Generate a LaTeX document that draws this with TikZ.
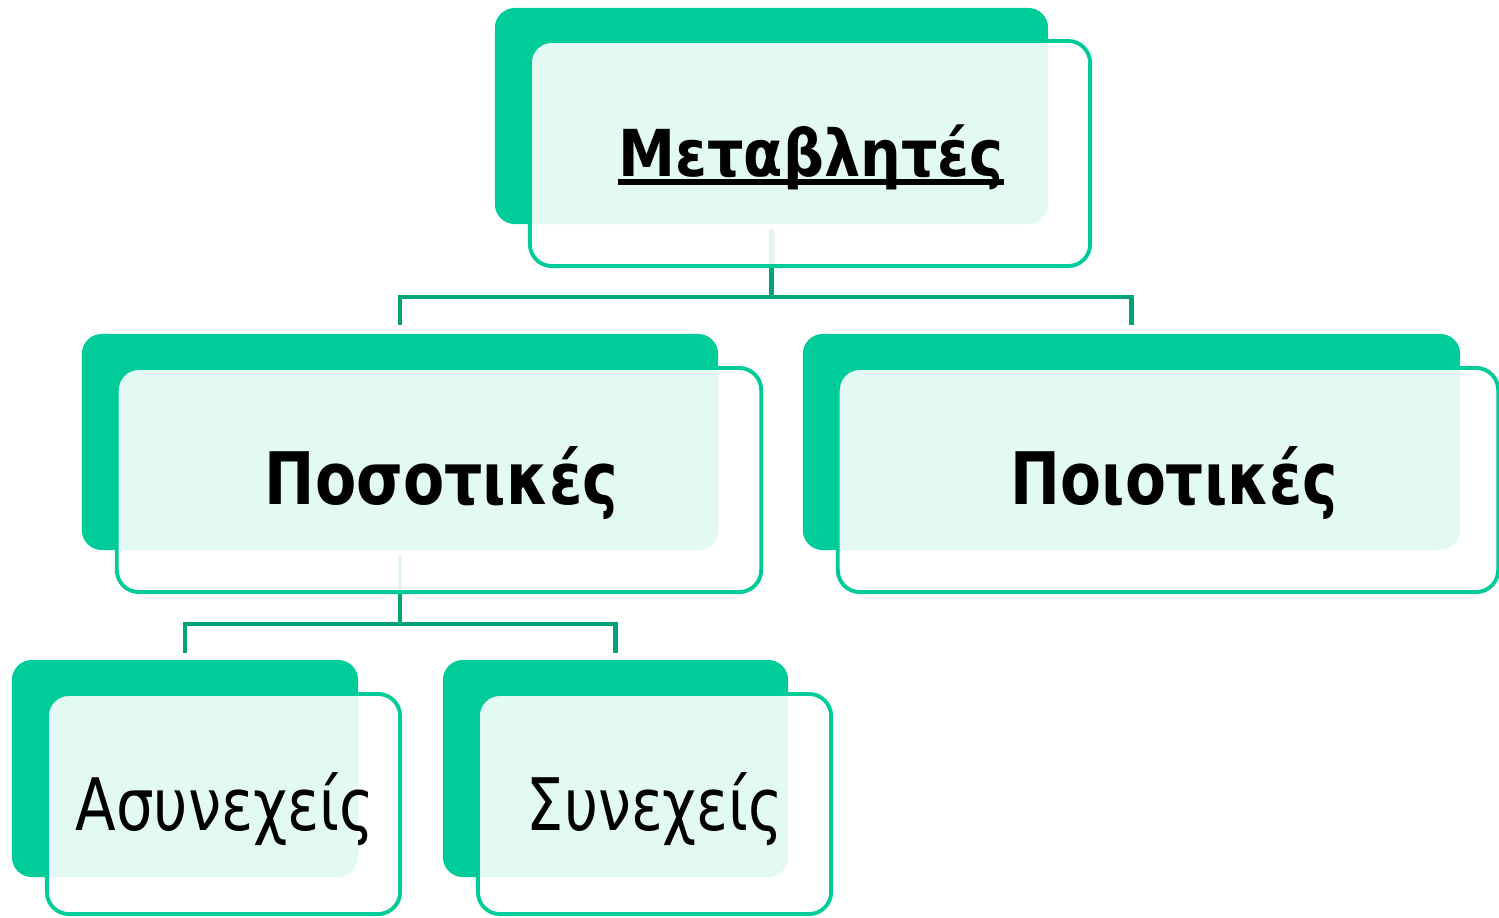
\documentclass[tikz,border=0pt]{standalone}
\usepackage{fontspec}
\setmainfont{DejaVu Sans}
\usepackage{graphicx}
\definecolor{boxgreen}{HTML}{00CC99}
\definecolor{linegreen}{HTML}{00A47A}
% stretch or squeeze a label horizontally to a given width
\newcommand\fitwidth[2]{\resizebox{#1}{\height}{#2}}
\tikzset{
  back/.style={fill=boxgreen, draw=none, rounded corners=0.2cm, inner sep=0pt},
  front/.style={fill=white, fill opacity=0.89, draw=boxgreen, line width=1.1pt,
                rounded corners=0.22cm, inner sep=0pt},
  conn/.style={draw=linegreen, line width=1.4pt},
  label/.style={anchor=base, inner sep=0pt, text=black},
}
\begin{document}
\begin{tikzpicture}[x=0.01cm, y=-0.01cm]
\useasboundingbox (0,0) rectangle (1499,917);

% solid back plates
\node[back, minimum width=5.53cm, minimum height=2.16cm] (dT)  at (771.5,116) {};
\node[back, minimum width=6.36cm, minimum height=2.16cm] (dL)  at (400,442) {};
\node[back, minimum width=6.57cm, minimum height=2.16cm] (dR)  at (1131.5,442) {};
\node[back, minimum width=3.46cm, minimum height=2.17cm] (dBL) at (185,768.5) {};
\node[back, minimum width=3.45cm, minimum height=2.17cm] (dBR) at (615.5,768.5) {};

% tree connectors
\coordinate (j1) at (771.5,297);
\coordinate (j2) at (400,624);
\draw[conn] ([yshift=-0.04cm]dT.south) -- (j1);
\draw[conn] ([yshift=0.08cm]dL.north) |- (j1) -| ([yshift=0.08cm]dR.north);
\draw[conn] ([yshift=-0.04cm]dL.south) -- (j2);
\draw[conn] ([yshift=0.06cm]dBL.north) |- (j2) -| ([yshift=0.06cm]dBR.north);

% translucent front cards
\node[front, minimum width=5.60cm, minimum height=2.25cm] (fT)  at (810,153.5) {};
\node[front, minimum width=6.44cm, minimum height=2.24cm] (fL)  at (439,480) {};
\node[front, minimum width=6.60cm, minimum height=2.24cm] (fR)  at (1168,480) {};
\node[front, minimum width=3.53cm, minimum height=2.20cm] (fBL) at (223.5,804) {};
\node[front, minimum width=3.53cm, minimum height=2.20cm] (fBR) at (654.5,804) {};

% labels
\node[label] (tT) at (811,176)
  {\fitwidth{3.85cm}{\fontsize{18.4}{21}\selectfont\bfseries Μεταβλητές}};
\draw[line width=1.9pt] ([yshift=-0.06cm]tT.base west) -- ([yshift=-0.06cm]tT.base east);
\node[label] (tL) at (441.5,504)
  {\fitwidth{3.53cm}{\fontsize{20.6}{23}\selectfont\bfseries Ποσοτικές}};
\node[label] (tR) at (1174.5,504)
  {\fitwidth{3.27cm}{\fontsize{20.6}{23}\selectfont\bfseries Ποιοτικές}};
\node[label] (tBL) at (225,830)
  {\fitwidth{2.99cm}{\fontsize{20.6}{23}\selectfont Ασυνεχείς}};
\node[label] (tBR) at (655,830)
  {\fitwidth{2.56cm}{\fontsize{20.6}{23}\selectfont Συνεχείς}};
\end{tikzpicture}
\end{document}
